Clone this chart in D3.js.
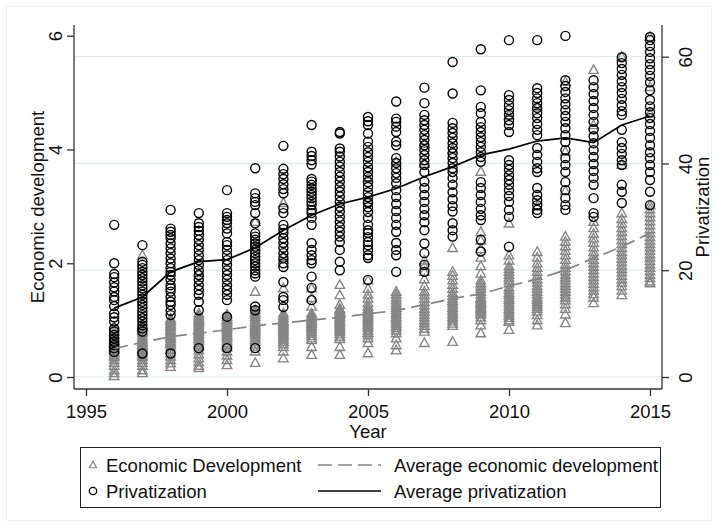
<!DOCTYPE html>
<html>
<head>
<meta charset="utf-8">
<script src="https://cdn.jsdelivr.net/npm/d3@7"></script>
<style>
  html, body { margin: 0; padding: 0; background: #fff; }
  svg text { font-family: "Liberation Sans", Arial, Helvetica, sans-serif; fill: #111; }
</style>
</head>
<body>
<svg id="chart" width="718" height="527"></svg>
<script>
// Panel: provinces observed yearly, 1996-2015
const years = [1996, 1997, 1998, 1999, 2000, 2001, 2002, 2003, 2004, 2005,
               2006, 2007, 2008, 2009, 2010, 2011, 2012, 2013, 2014, 2015];

// Privatization (right axis), one list per year
const privatization = [
  [28.5, 21.3, 19.3, 18.7, 17.7, 16.8, 16.0, 15.0, 14.4, 13.3, 11.9, 11.2, 10.4, 9.1, 8.5, 7.9, 7.2, 6.6, 6.0, 5.4, 4.7],
  [24.7, 21.6, 21.0, 20.4, 19.7, 19.1, 18.5, 17.9, 17.2, 16.6, 16.0, 15.4, 14.7, 14.1, 13.5, 12.9, 12.2, 11.6, 11.0, 10.4, 9.7, 9.1, 8.5, 4.4],
  [31.3, 27.8, 27.2, 26.6, 26.0, 25.0, 24.1, 23.2, 22.2, 21.3, 20.4, 19.7, 19.1, 18.2, 17.2, 16.6, 16.0, 15.0, 14.1, 13.5, 12.4, 11.6, 4.4],
  [30.7, 28.8, 28.1, 27.4, 26.6, 25.7, 24.7, 23.8, 22.8, 21.9, 21.0, 20.0, 19.1, 18.2, 17.2, 16.3, 15.4, 14.1, 12.5, 5.4],
  [35.0, 30.7, 30.0, 29.4, 28.8, 27.8, 26.9, 25.3, 24.7, 23.8, 22.8, 21.9, 21.0, 20.0, 19.1, 18.2, 17.2, 16.3, 15.4, 14.4, 11.3, 5.4],
  [39.1, 34.4, 33.5, 32.8, 32.2, 30.7, 28.8, 26.9, 26.3, 25.7, 25.0, 24.4, 23.8, 23.2, 22.5, 21.9, 21.3, 20.7, 20.0, 19.4, 18.8, 13.2, 12.5, 5.4],
  [43.3, 39.0, 38.0, 37.1, 36.1, 35.2, 34.4, 31.6, 30.7, 28.5, 27.7, 27.0, 26.0, 25.1, 24.2, 23.2, 22.3, 21.3, 20.6, 17.8, 15.0, 14.4, 13.1],
  [47.2, 42.2, 41.4, 40.6, 39.8, 37.1, 36.6, 36.0, 35.3, 34.7, 34.1, 33.5, 32.8, 32.2, 31.3, 30.7, 29.8, 28.5, 25.1, 23.8, 22.8, 21.9, 21.3, 18.8, 16.7, 14.4],
  [45.9, 45.6, 42.8, 42.2, 41.3, 40.3, 39.4, 38.4, 37.5, 36.6, 35.6, 34.7, 33.8, 32.8, 31.9, 31.0, 30.0, 29.1, 28.1, 27.2, 26.3, 25.3, 23.8, 21.6, 20.0],
  [48.7, 47.9, 47.2, 45.6, 44.1, 43.1, 42.1, 41.2, 40.3, 39.3, 38.4, 37.5, 36.5, 35.6, 34.6, 33.7, 32.8, 32.6, 31.8, 30.9, 29.8, 28.5, 27.5, 27.0, 26.2, 25.3, 24.7, 23.8, 22.8, 22.3, 18.2],
  [51.6, 48.4, 47.8, 46.9, 45.9, 44.1, 43.4, 41.0, 40.1, 39.1, 38.2, 37.3, 36.3, 35.0, 33.7, 32.4, 31.1, 29.8, 28.5, 27.2, 25.1, 23.8, 22.8, 19.7],
  [54.2, 51.3, 49.1, 48.1, 47.2, 46.3, 45.3, 44.4, 43.4, 42.5, 41.6, 40.6, 39.7, 38.4, 36.6, 35.4, 34.1, 32.8, 31.5, 30.3, 29.0, 27.5, 25.0, 23.2, 21.0, 19.7],
  [59.0, 53.1, 47.6, 46.6, 45.7, 44.8, 43.8, 42.9, 41.9, 41.0, 40.1, 39.1, 38.4, 37.3, 36.0, 34.6, 33.3, 32.0, 31.0, 28.8, 27.5, 26.3],
  [61.4, 53.7, 50.6, 49.4, 47.8, 46.8, 45.9, 44.9, 44.0, 43.1, 42.1, 41.2, 40.3, 36.5, 35.4, 34.1, 32.8, 31.5, 30.3, 29.4, 25.7, 23.5],
  [63.1, 52.8, 51.9, 50.9, 50.0, 49.1, 48.1, 47.2, 45.9, 40.6, 39.7, 38.8, 37.8, 36.9, 36.0, 35.0, 33.9, 32.8, 31.3, 30.0, 24.4],
  [63.1, 54.1, 53.2, 52.2, 51.3, 50.4, 49.4, 48.5, 47.4, 46.3, 45.3, 42.9, 41.6, 40.3, 39.1, 38.4, 35.4, 34.1, 33.1, 32.2, 31.3, 30.7],
  [63.9, 55.6, 54.5, 53.4, 52.2, 51.1, 50.0, 48.9, 47.8, 46.6, 45.3, 44.0, 42.5, 41.0, 39.7, 38.4, 36.5, 35.0, 33.5, 32.2, 31.3],
  [55.6, 54.3, 53.0, 51.7, 50.4, 49.1, 47.8, 46.4, 45.1, 43.8, 42.5, 41.2, 39.9, 38.6, 37.3, 36.0, 33.5, 30.7, 30.0],
  [59.9, 58.8, 57.7, 56.6, 55.4, 54.3, 53.2, 52.1, 50.9, 49.8, 49.1, 46.3, 44.0, 42.9, 41.8, 40.6, 39.7, 36.0, 34.7, 32.6],
  [63.7, 63.1, 62.0, 60.9, 59.7, 58.6, 57.5, 56.4, 55.2, 53.7, 51.9, 50.7, 49.6, 48.5, 47.4, 46.1, 44.8, 43.4, 42.1, 41.0, 39.7, 38.4, 36.9, 34.7, 32.2]
];

// Economic development (left axis), one list per year
const econDevelopment = [
  [0.02, 0.07, 0.12, 0.2, 0.25, 0.3, 0.35, 0.38, 0.42, 0.45, 0.48, 0.5, 0.52, 0.55, 0.58, 0.6, 0.63, 0.65, 0.7, 0.75, 0.8, 0.88],
  [2.14, 0.92, 0.88, 0.82, 0.8, 0.77, 0.72, 0.68, 0.65, 0.62, 0.6, 0.57, 0.55, 0.52, 0.5, 0.48, 0.45, 0.42, 0.38, 0.35, 0.3, 0.25, 0.2, 0.12, 0.07],
  [1.03, 1.0, 0.97, 0.93, 0.9, 0.87, 0.83, 0.8, 0.77, 0.73, 0.7, 0.67, 0.63, 0.6, 0.57, 0.53, 0.48, 0.42, 0.36, 0.3, 0.24, 0.18],
  [1.83, 1.12, 1.08, 1.05, 1.02, 1.0, 0.97, 0.94, 0.91, 0.88, 0.85, 0.82, 0.79, 0.76, 0.73, 0.7, 0.67, 0.64, 0.6, 0.56, 0.53, 0.47, 0.4, 0.33, 0.26, 0.2, 0.16],
  [1.1, 1.06, 1.02, 1.0, 0.98, 0.95, 0.92, 0.89, 0.86, 0.83, 0.8, 0.77, 0.74, 0.71, 0.68, 0.64, 0.6, 0.56, 0.52, 0.45, 0.38, 0.3, 0.21],
  [2.73, 1.5, 1.18, 1.14, 1.1, 1.06, 1.02, 0.98, 0.95, 0.92, 0.89, 0.86, 0.83, 0.8, 0.77, 0.74, 0.7, 0.66, 0.62, 0.57, 0.53, 0.45, 0.25],
  [3.06, 2.11, 1.56, 1.12, 1.08, 1.04, 1.0, 0.97, 0.94, 0.91, 0.88, 0.85, 0.82, 0.79, 0.76, 0.73, 0.7, 0.66, 0.62, 0.58, 0.53, 0.45, 0.33],
  [3.02, 1.56, 1.39, 1.24, 1.12, 1.08, 1.05, 1.02, 0.99, 0.96, 0.93, 0.9, 0.87, 0.84, 0.8, 0.76, 0.72, 0.68, 0.65, 0.53, 0.39],
  [1.62, 1.44, 1.27, 1.2, 1.18, 1.15, 1.12, 1.09, 1.06, 1.03, 1.0, 0.97, 0.94, 0.91, 0.88, 0.85, 0.82, 0.79, 0.75, 0.71, 0.67, 0.53, 0.39],
  [3.5, 1.7, 1.55, 1.45, 1.38, 1.3, 1.24, 1.2, 1.16, 1.13, 1.1, 1.07, 1.04, 1.01, 0.98, 0.95, 0.92, 0.89, 0.86, 0.82, 0.78, 0.74, 0.68, 0.6, 0.42],
  [3.78, 1.5, 1.45, 1.4, 1.35, 1.3, 1.26, 1.22, 1.18, 1.14, 1.1, 1.06, 1.02, 0.98, 0.94, 0.9, 0.86, 0.82, 0.77, 0.68, 0.56, 0.47],
  [4.1, 3.75, 2.05, 1.95, 1.85, 1.72, 1.6, 1.5, 1.44, 1.38, 1.32, 1.26, 1.2, 1.15, 1.1, 1.05, 1.0, 0.95, 0.9, 0.85, 0.8, 0.6],
  [4.0, 2.27, 1.85, 1.78, 1.7, 1.62, 1.55, 1.48, 1.43, 1.38, 1.34, 1.3, 1.26, 1.22, 1.18, 1.14, 1.1, 1.06, 1.02, 0.98, 0.94, 0.9, 0.62],
  [3.61, 2.55, 2.4, 2.25, 2.1, 1.95, 1.82, 1.7, 1.65, 1.6, 1.55, 1.5, 1.45, 1.4, 1.38, 1.35, 1.32, 1.3, 1.28, 1.25, 1.22, 1.2, 1.18, 1.15, 1.12, 1.1, 1.05, 1.0, 0.91, 0.77],
  [4.6, 2.7, 2.14, 2.05, 1.95, 1.9, 1.85, 1.8, 1.75, 1.7, 1.65, 1.58, 1.53, 1.48, 1.44, 1.4, 1.36, 1.32, 1.28, 1.24, 1.2, 1.16, 1.12, 1.08, 1.04, 1.0, 0.97, 0.83],
  [4.75, 3.0, 2.2, 2.1, 2.0, 1.92, 1.85, 1.78, 1.72, 1.66, 1.6, 1.55, 1.5, 1.45, 1.4, 1.36, 1.32, 1.28, 1.24, 1.2, 1.15, 1.09, 1.0, 0.91],
  [5.19, 3.96, 3.27, 2.47, 2.38, 2.3, 2.22, 2.14, 2.06, 1.98, 1.92, 1.86, 1.8, 1.75, 1.7, 1.65, 1.6, 1.55, 1.5, 1.45, 1.4, 1.35, 1.28, 1.2, 1.1, 0.95],
  [5.4, 4.43, 2.73, 2.62, 2.52, 2.44, 2.36, 2.28, 2.2, 2.13, 2.06, 2.0, 1.94, 1.88, 1.82, 1.76, 1.7, 1.64, 1.58, 1.52, 1.46, 1.4, 1.3],
  [5.63, 3.73, 2.88, 2.78, 2.7, 2.62, 2.55, 2.48, 2.41, 2.34, 2.27, 2.2, 2.14, 2.08, 2.02, 1.96, 1.9, 1.84, 1.78, 1.72, 1.66, 1.6, 1.52, 1.44],
  [5.98, 5.1, 4.63, 3.02, 2.95, 2.88, 2.81, 2.74, 2.67, 2.6, 2.53, 2.46, 2.4, 2.34, 2.28, 2.22, 2.16, 2.1, 2.04, 1.98, 1.92, 1.86, 1.8, 1.74, 1.68, 1.65]
];

// Yearly averages
const avgPrivatization = [12.9, 15.0, 19.7, 21.6, 22.0, 24.2, 27.5, 30.3, 32.4, 33.7,
                          35.3, 37.5, 39.4, 41.6, 42.7, 44.2, 44.8, 43.9, 47.2, 48.9];
const avgEconDevelopment = [0.50, 0.61, 0.71, 0.77, 0.83, 0.90, 0.95, 1.00, 1.05, 1.11,
                            1.17, 1.27, 1.38, 1.46, 1.60, 1.72, 1.88, 2.09, 2.29, 2.53];

// Axis ticks
const xTicks = [1995, 2000, 2005, 2010, 2015];
const leftTicks = [0, 2, 4, 6];
const rightTicks = [0, 20, 40, 60];

// Layout
const plot = { left: 74, right: 662, top: 25, bottom: 389 };
const GRAY = "#858585";
const AXIS = "#333";
const FS = 18.5;

const svg = d3.select("#chart");

// faint outer frame of the graph region
svg.append("rect").attr("x", 6.5).attr("y", 6.5).attr("width", 705).attr("height", 514)
  .attr("fill", "#fff").attr("stroke", "#eef3f3");

const x = d3.scaleLinear().domain([1995, 2015]).range([86, 650]);
const yL = d3.scaleLinear().domain([0, 6]).range([377, 35.7]);
const yR = d3.scaleLinear().domain([0, 60]).range([377, 56.7]);

// gridlines from the right axis
svg.append("g").selectAll("line").data(rightTicks).join("line")
  .attr("x1", plot.left).attr("x2", plot.right)
  .attr("y1", d => yR(d)).attr("y2", d => yR(d))
  .attr("stroke", "#dfe9ea").attr("stroke-width", 1.2);

// hollow triangle marker
const tri = (s) => `M0,${-s}L${s * 0.95},${s * 0.72}L${-s * 0.95},${s * 0.72}Z`;

const econPts = years.flatMap((yr, i) => econDevelopment[i].map(v => ({ yr, v })));
const privPts = years.flatMap((yr, i) => privatization[i].map(v => ({ yr, v })));

svg.append("g").selectAll("path").data(econPts).join("path")
  .attr("d", tri(5.0))
  .attr("transform", d => `translate(${x(d.yr)},${yL(d.v)})`)
  .attr("fill", "none").attr("stroke", GRAY).attr("stroke-width", 1.35);

svg.append("g").selectAll("circle").data(privPts).join("circle")
  .attr("cx", d => x(d.yr)).attr("cy", d => yR(d.v)).attr("r", 4.5)
  .attr("fill", "none").attr("stroke", "#000").attr("stroke-width", 1.4);

// average lines
const econLine = d3.line().x((d, i) => x(years[i])).y(d => yL(d));
const privLine = d3.line().x((d, i) => x(years[i])).y(d => yR(d));

svg.append("path").datum(avgEconDevelopment).attr("d", econLine)
  .attr("fill", "none").attr("stroke", GRAY).attr("stroke-width", 1.7)
  .attr("stroke-dasharray", "14,6");
svg.append("path").datum(avgPrivatization).attr("d", privLine)
  .attr("fill", "none").attr("stroke", "#000").attr("stroke-width", 1.7);

// axis lines
const axisG = svg.append("g").attr("stroke", AXIS).attr("stroke-width", 1.3);
axisG.append("line").attr("x1", plot.left).attr("x2", plot.left).attr("y1", plot.top).attr("y2", plot.bottom);
axisG.append("line").attr("x1", plot.right).attr("x2", plot.right).attr("y1", plot.top).attr("y2", plot.bottom);
axisG.append("line").attr("x1", plot.left).attr("x2", plot.right).attr("y1", plot.bottom).attr("y2", plot.bottom);

// bottom axis
const gx = svg.append("g").attr("transform", `translate(0,${plot.bottom})`)
  .call(d3.axisBottom(x).tickValues(xTicks).tickFormat(d3.format("d")).tickSize(7).tickSizeOuter(0));
gx.select(".domain").remove();
gx.selectAll(".tick line").attr("stroke", AXIS).attr("stroke-width", 1.3);
gx.selectAll(".tick text").attr("y", 29).attr("dy", 0).attr("font-size", FS).attr("fill", "#111");

// left axis with vertical labels
const gl = svg.append("g").attr("transform", `translate(${plot.left},0)`)
  .call(d3.axisLeft(yL).tickValues(leftTicks).tickFormat(d3.format("d")).tickSize(7).tickSizeOuter(0));
gl.select(".domain").remove();
gl.selectAll(".tick line").attr("stroke", AXIS).attr("stroke-width", 1.3);
gl.selectAll(".tick text").attr("x", 0).attr("y", -12).attr("dy", 0)
  .attr("text-anchor", "middle").attr("transform", "rotate(-90)")
  .attr("font-size", FS).attr("fill", "#111");

// right axis with vertical labels
const gr = svg.append("g").attr("transform", `translate(${plot.right},0)`)
  .call(d3.axisRight(yR).tickValues(rightTicks).tickFormat(d3.format("d")).tickSize(7).tickSizeOuter(0));
gr.select(".domain").remove();
gr.selectAll(".tick line").attr("stroke", AXIS).attr("stroke-width", 1.3);
gr.selectAll(".tick text").attr("x", 0).attr("y", 29.5).attr("dy", 0)
  .attr("text-anchor", "middle").attr("transform", "rotate(-90)")
  .attr("font-size", FS).attr("fill", "#111");

// axis titles
svg.append("text").attr("transform", `translate(43.5,${(plot.top + plot.bottom) / 2}) rotate(-90)`)
  .attr("text-anchor", "middle").attr("font-size", FS).text("Economic development");
svg.append("text").attr("transform", `translate(709,${(plot.top + plot.bottom) / 2}) rotate(-90)`)
  .attr("text-anchor", "middle").attr("font-size", FS).text("Privatization");
svg.append("text").attr("x", (plot.left + plot.right) / 2).attr("y", 438)
  .attr("text-anchor", "middle").attr("font-size", FS).text("Year");

// legend
const lg = svg.append("g");
lg.append("rect").attr("x", 80.5).attr("y", 447.5).attr("width", 580).attr("height", 60)
  .attr("fill", "#fff").attr("stroke", "#222").attr("stroke-width", 1);
lg.append("path").attr("d", tri(3.8)).attr("transform", "translate(93,465)")
  .attr("fill", "none").attr("stroke", GRAY).attr("stroke-width", 1.2);
lg.append("circle").attr("cx", 93).attr("cy", 491).attr("r", 3.7)
  .attr("fill", "none").attr("stroke", "#000").attr("stroke-width", 1.3);
lg.append("line").attr("x1", 318).attr("x2", 381).attr("y1", 465).attr("y2", 465)
  .attr("stroke", GRAY).attr("stroke-width", 1.7).attr("stroke-dasharray", "14,6");
lg.append("line").attr("x1", 318).attr("x2", 381).attr("y1", 491).attr("y2", 491)
  .attr("stroke", "#000").attr("stroke-width", 1.7);
const legendText = [
  { x: 106, y: 471.5, t: "Economic Development" },
  { x: 106, y: 497.5, t: "Privatization" },
  { x: 394, y: 471.5, t: "Average economic development" },
  { x: 394, y: 497.5, t: "Average privatization" }
];
lg.selectAll("text.lt").data(legendText).join("text").attr("class", "lt")
  .attr("x", d => d.x).attr("y", d => d.y).attr("font-size", FS).text(d => d.t);
</script>
</body>
</html>
